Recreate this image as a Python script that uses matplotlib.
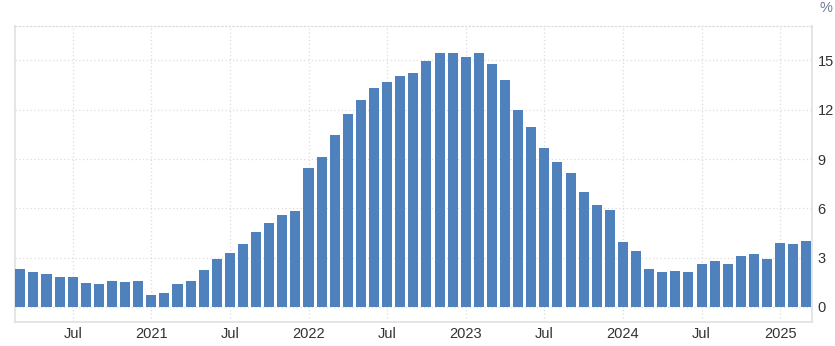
import numpy as np
import matplotlib.pyplot as plt
import pandas as pd

# monthly values, Mar 2020 .. Mar 2025
months = pd.date_range("2020-03-01", "2025-03-01", freq="MS")
values = [2.30, 2.11, 1.99, 1.81, 1.81, 1.44, 1.38, 1.57, 1.50, 1.57,
          0.71, 0.83, 1.38, 1.57, 2.24, 2.91, 3.27, 3.82, 4.55, 5.10, 5.59, 5.83,
          8.43, 9.10, 10.45, 11.73, 12.59, 13.33, 13.69, 14.06, 14.24, 14.98, 15.47, 15.47,
          15.22, 15.47, 14.80, 13.82, 11.98, 10.94, 9.68, 8.80, 8.18, 7.02, 6.23, 5.87,
          3.93, 3.38, 2.29, 2.11, 2.17, 2.11, 2.59, 2.77, 2.59, 3.08, 3.20, 2.89,
          3.87, 3.81, 3.99]
yticks = [0, 3, 6, 9, 12, 15]

plt.rcParams['font.family'] = ['Liberation Sans', 'DejaVu Sans']

fig = plt.figure(figsize=(8.35, 3.46), dpi=100)
ax = fig.add_axes([0.0176, 0.0702, 0.955, 0.8547])

x = np.arange(len(values))
ax.bar(x, values, width=0.77, color='#4f81bd', zorder=3)

# ticks at every January / July
tick_pos = [i for i, m in enumerate(months) if m.month in (1, 7)]
tick_lab = [str(m.year) if m.month == 1 else "Jul" for m in months if m.month in (1, 7)]
ax.set_xticks(tick_pos)
ax.set_xticklabels(tick_lab)
ax.set_xlim(-0.43, 60.44)

ax.set_yticks(yticks)
ax.set_ylim(-0.9, 17.1)
ax.yaxis.tick_right()

ax.tick_params(axis='both', length=0, labelsize=10.5, colors='#333333')
ax.tick_params(axis='y', pad=4)
ax.tick_params(axis='x', pad=4)

ax.grid(True, color='#dcdcdc', linestyle=(0, (1, 2)), linewidth=0.9, zorder=0)

for s in ['left', 'right', 'bottom']:
    ax.spines[s].set_color('#e0e0e0')
    ax.spines[s].set_linewidth(1.2)
ax.spines['top'].set_color('#dcdcdc')
ax.spines['top'].set_linestyle((0, (1, 2)))
ax.spines['top'].set_linewidth(0.9)

fig.text(0.981, 0.997, "%", color='#6d7b99', fontsize=10.5, ha='left', va='top')

fig.savefig("out.png", dpi=100)
